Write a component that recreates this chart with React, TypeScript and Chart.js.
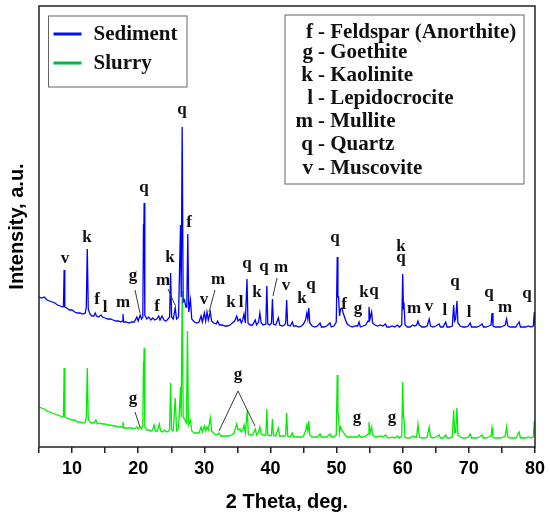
import React, { useEffect, useRef } from 'react';
import { Chart, registerables } from 'chart.js';

Chart.register(...registerables);

// ---- axis ----
const xMin = 5;
const xMax = 80;
const xStep = 5;
const xLabeledTicks = [10, 20, 30, 40, 50, 60, 70, 80];
const yMin = 0;
const yMax = 441;

const xTitle = '2 Theta, deg.';
const yTitle = 'Intensity, a.u.';

// ---- series: [2θ (deg), intensity (a.u.)] ----
const sedimentPoints: [number, number][] = [
  [5.0,150],[5.4,149],[5.8,150],[6.2,147],[6.6,146],[7.0,145],[7.4,144],[7.8,142],[8.2,141],[8.6,140],[8.7,141],[8.8,177],[8.9,140],[9.2,139],[9.6,137],[10.0,137],[10.4,135],[10.8,134],[11.2,134],[11.6,133],[12.0,134],[12.15,140],[12.3,198],[12.45,138],[12.7,133],[13.0,131],[13.3,131],[13.5,134],[13.7,131],[14.0,130],[14.4,132],[14.6,130],[15.0,129],[15.4,128],[15.8,128],[16.2,127],[16.6,126],[17.0,126],[17.4,125],[17.6,126],[17.7,133],[17.8,125],[18.2,125],[18.6,124],[19.0,125],[19.4,125],[19.8,130],[20.0,126],[20.3,132],[20.5,128],[20.7,130],[20.8,223],[20.85,210],[20.9,244],[21.0,132],[21.3,128],[21.6,130],[21.9,127],[22.2,129],[22.5,127],[22.8,128],[23.1,131],[23.3,127],[23.6,131],[23.9,127],[24.2,126],[24.5,128],[24.75,130],[24.9,174],[25.05,130],[25.3,128],[25.6,139],[25.8,128],[26.1,130],[26.4,222],[26.5,150],[26.65,320],[26.8,145],[27.0,147],[27.2,140],[27.35,140],[27.5,213],[27.65,135],[27.9,147],[28.1,128],[28.5,125],[28.9,124],[29.2,125],[29.5,131],[29.7,125],[30.0,134],[30.2,126],[30.4,135],[30.6,127],[30.9,135],[31.1,126],[31.4,124],[31.8,123],[32.0,126],[32.3,122],[32.7,122],[33.1,121],[33.5,121],[33.9,122],[34.2,124],[34.6,126],[34.9,131],[35.1,126],[35.4,128],[35.6,124],[35.8,127],[36.0,133],[36.2,124],[36.45,168],[36.6,124],[36.9,122],[37.3,122],[37.7,127],[37.9,122],[38.2,125],[38.4,134],[38.6,124],[38.9,122],[39.3,123],[39.45,161],[39.6,123],[39.9,122],[40.15,124],[40.3,148],[40.45,123],[40.8,122],[41.2,129],[41.4,122],[41.8,121],[42.1,122],[42.3,124],[42.45,147],[42.6,122],[43.0,121],[43.3,125],[43.5,121],[43.9,121],[44.3,120],[44.7,121],[45.0,123],[45.3,127],[45.5,134],[45.65,128],[45.8,139],[45.95,124],[46.3,121],[46.7,120],[47.1,121],[47.5,124],[47.7,120],[48.1,120],[48.5,121],[49.0,124],[49.2,120],[49.6,121],[49.95,125],[50.1,190],[50.2,150],[50.3,150],[50.45,131],[50.6,138],[50.8,139],[51.0,134],[51.3,128],[51.6,123],[52.0,121],[52.4,120],[52.8,121],[53.2,121],[53.4,125],[53.6,120],[54.0,121],[54.4,122],[54.75,126],[54.9,140],[55.05,128],[55.3,135],[55.45,124],[55.8,122],[56.2,121],[56.6,122],[57.0,121],[57.4,123],[57.6,120],[58.0,120],[58.4,121],[58.8,120],[59.2,122],[59.5,120],[59.85,122],[60.0,173],[60.1,140],[60.2,142],[60.35,122],[60.7,120],[61.1,120],[61.5,122],[61.8,121],[62.1,122],[62.3,126],[62.5,122],[62.9,120],[63.3,120],[63.7,121],[64.0,128],[64.2,121],[64.6,120],[65.0,121],[65.5,123],[65.7,120],[66.1,120],[66.5,125],[66.7,120],[67.1,120],[67.5,121],[67.7,142],[67.85,126],[68.0,128],[68.2,146],[68.35,124],[68.7,121],[69.1,120],[69.5,120],[69.9,121],[70.2,124],[70.4,120],[70.8,120],[71.2,120],[71.6,121],[72.0,123],[72.2,120],[72.6,120],[73.0,121],[73.35,122],[73.5,134],[73.65,121],[74.0,120],[74.4,120],[74.8,120],[75.2,121],[75.5,122],[75.7,128],[75.9,121],[76.3,120],[76.7,120],[77.1,120],[77.6,125],[77.8,120],[78.2,120],[78.6,120],[79.0,121],[79.4,120],[79.75,121],[79.9,135],[80.0,122],
];

const slurryPoints: [number, number][] = [
  [5.0,40],[5.4,39],[5.8,38],[6.2,36],[6.6,35],[7.0,34],[7.4,33],[7.8,32],[8.2,31],[8.6,30],[8.7,31],[8.8,79],[8.9,30],[9.2,29],[9.6,28],[10.0,27],[10.4,27],[10.8,25],[11.2,25],[11.6,24],[12.0,25],[12.15,30],[12.3,79],[12.45,28],[12.7,25],[13.0,24],[13.3,24],[13.6,27],[13.8,23],[14.2,24],[14.6,23],[15.0,23],[15.4,22],[15.8,22],[16.2,21],[16.6,21],[17.0,20],[17.4,20],[17.6,20],[17.7,25],[17.8,19],[18.2,19],[18.6,19],[19.0,19],[19.4,18],[19.8,20],[20.0,18],[20.3,20],[20.5,18],[20.7,22],[20.8,85],[20.85,80],[20.9,99],[21.0,20],[21.3,17],[21.6,17],[21.9,16],[22.2,17],[22.4,22],[22.6,16],[22.9,16],[23.2,23],[23.4,16],[23.7,15],[24.0,17],[24.3,15],[24.6,16],[24.75,18],[24.9,64],[25.05,17],[25.3,16],[25.6,49],[25.8,16],[26.1,18],[26.4,60],[26.5,30],[26.65,156],[26.8,30],[27.0,28],[27.2,25],[27.3,24],[27.45,116],[27.6,22],[27.9,27],[28.1,16],[28.5,14],[28.9,14],[29.2,14],[29.5,20],[29.7,15],[30.0,21],[30.2,16],[30.4,20],[30.6,17],[30.9,29],[31.1,16],[31.5,13],[31.9,12],[32.2,14],[32.5,11],[32.9,11],[33.3,11],[33.7,11],[34.1,12],[34.5,14],[34.9,23],[35.1,17],[35.4,18],[35.6,15],[35.8,17],[36.0,22],[36.2,14],[36.5,37],[36.65,13],[36.9,12],[37.3,12],[37.7,18],[37.9,12],[38.2,15],[38.4,20],[38.6,13],[38.9,12],[39.3,12],[39.45,38],[39.6,12],[39.9,11],[40.15,12],[40.3,28],[40.45,12],[40.8,11],[41.2,19],[41.4,11],[41.8,11],[42.1,11],[42.3,12],[42.45,34],[42.6,11],[43.0,10],[43.3,14],[43.5,10],[43.9,10],[44.3,10],[44.7,10],[45.0,11],[45.3,16],[45.5,22],[45.65,16],[45.8,26],[45.95,12],[46.3,10],[46.7,10],[47.1,10],[47.5,13],[47.7,10],[48.1,10],[48.5,10],[49.0,13],[49.2,10],[49.6,10],[49.95,12],[50.1,72],[50.2,35],[50.3,30],[50.45,14],[50.6,20],[50.8,17],[51.0,15],[51.3,12],[51.6,10],[52.0,10],[52.4,10],[52.8,10],[53.2,10],[53.4,12],[53.6,10],[54.0,10],[54.4,11],[54.75,13],[54.9,25],[55.05,14],[55.3,20],[55.45,12],[55.8,10],[56.2,10],[56.6,11],[57.0,10],[57.4,12],[57.6,10],[58.0,9],[58.4,10],[58.8,9],[59.2,11],[59.5,9],[59.85,11],[60.0,65],[60.1,30],[60.2,28],[60.35,10],[60.7,9],[61.1,9],[61.5,11],[61.8,10],[62.1,10],[62.3,23],[62.5,10],[62.9,9],[63.3,9],[63.7,10],[64.0,20],[64.2,10],[64.6,9],[65.0,10],[65.5,12],[65.7,9],[66.1,9],[66.5,12],[66.7,9],[67.1,9],[67.5,10],[67.7,37],[67.85,14],[68.0,15],[68.2,39],[68.35,12],[68.7,10],[69.1,9],[69.5,9],[69.9,10],[70.2,13],[70.4,9],[70.8,9],[71.2,9],[71.6,10],[72.0,12],[72.2,9],[72.6,9],[73.0,10],[73.35,11],[73.5,19],[73.65,10],[74.0,9],[74.4,9],[74.8,9],[75.2,10],[75.5,11],[75.7,20],[75.9,10],[76.3,9],[76.7,9],[77.1,9],[77.6,15],[77.8,9],[78.2,9],[78.6,9],[79.0,10],[79.4,9],[79.75,10],[79.9,26],[80.0,12],
];

// ---- peak annotations: [letter, 2θ, intensity] ----
const sedimentPeakLabels: [string, number, number][] = [
  ['v',8.93,188],['k',12.26,209],['f',13.77,147],['l',14.98,139],['m',17.7,144],['g',19.21,171],
  ['q',20.88,259],['f',22.84,140],['m',23.75,166],['k',24.81,189],['q',26.62,337],['f',27.68,224],
  ['v',29.95,147],['m',32.07,167],['k',34.03,144],['l',35.55,144],['q',36.45,183],['k',37.97,154],
  ['q',39.02,180],['m',41.59,179],['v',42.35,161],['k',44.77,148],['q',46.13,162],['q',49.76,209],
  ['f',51.12,142],['g',53.24,138],['k',54.15,154],['q',55.66,156],['k',59.74,200],['q',59.74,189],
  ['m',61.71,138],['v',63.97,140],['l',66.39,136],['q',67.91,165],['l',70.02,134],['q',73.05,154],
  ['m',75.47,139],['q',78.79,153],
];
const slurryPeakLabels: [string, number, number][] = [
  ['g',19.21,48],['g',35.09,72],['g',53.09,29],['g',58.38,29],
];

// ---- leader lines: [2θ1, I1, 2θ2, I2] ----
const sedimentLeaders: [number, number, number, number][] = [
  [19.52,157,20.27,134],[24.51,158,25.57,142],[31.61,157,30.71,135],[40.99,169,40.38,151],
];
const slurryLeaders: [number, number, number, number][] = [
  [19.52,35,20.27,20],[35.09,56,32.22,16],[35.09,56,37.66,21],
];

// ---- legends ----
const seriesNames = ['Sediment', 'Slurry'];
const seriesColors = ['#0000ff', '#00ee00'];
const legendLineColors = ['#0010ff', '#00b84a'];
const phaseLetters = ['f', 'g', 'k', 'l', 'm', 'q', 'v'];
const phaseNames = ['Feldspar (Anorthite)', 'Goethite', 'Kaolinite', 'Lepidocrocite', 'Mullite', 'Quartz', 'Muscovite'];

const SERIF = '"Liberation Serif", "Times New Roman", serif';
const SANS = '"Liberation Sans", Arial, sans-serif';

const overlayPlugin = {
  id: 'xrdOverlay',
  afterDatasetsDraw(chart: any) {
    const { ctx, chartArea: a, scales } = chart;
    const xs = scales.x;
    const ys = scales.y;
    ctx.save();

    // leader lines
    ctx.strokeStyle = '#3a3a3a';
    ctx.lineWidth = 1;
    for (const [x1, y1, x2, y2] of [...sedimentLeaders, ...slurryLeaders]) {
      ctx.beginPath();
      ctx.moveTo(xs.getPixelForValue(x1), ys.getPixelForValue(y1));
      ctx.lineTo(xs.getPixelForValue(x2), ys.getPixelForValue(y2));
      ctx.stroke();
    }

    // peak letters
    ctx.fillStyle = '#111';
    ctx.font = `bold 17px ${SERIF}`;
    ctx.textAlign = 'center';
    ctx.textBaseline = 'middle';
    for (const [t, x, y] of [...sedimentPeakLabels, ...slurryPeakLabels]) {
      ctx.fillText(t, xs.getPixelForValue(x), ys.getPixelForValue(y));
    }

    // frame
    ctx.strokeStyle = '#222';
    ctx.lineWidth = 1.5;
    ctx.strokeRect(a.left, a.top, a.right - a.left, a.bottom - a.top);

    // series legend box
    const b1x = a.left + 9.5, b1y = a.top + 10, b1w = 138.5, b1h = 71;
    ctx.fillStyle = '#fff';
    ctx.fillRect(b1x, b1y, b1w, b1h);
    ctx.strokeStyle = '#666';
    ctx.lineWidth = 1;
    ctx.strokeRect(b1x, b1y, b1w, b1h);
    ctx.font = `bold 21px ${SERIF}`;
    ctx.textAlign = 'left';
    ctx.textBaseline = 'middle';
    seriesNames.forEach((name, i) => {
      const cy = b1y + 18 + i * 29;
      ctx.strokeStyle = legendLineColors[i];
      ctx.lineWidth = 3;
      ctx.beginPath();
      ctx.moveTo(b1x + 5, cy);
      ctx.lineTo(b1x + 33, cy);
      ctx.stroke();
      ctx.fillStyle = '#111';
      ctx.fillText(name, b1x + 45, cy + 1);
    });

    // phase legend box
    const b2x = a.left + 246, b2y = a.top + 9, b2w = 239, b2h = 169;
    ctx.fillStyle = '#fff';
    ctx.fillRect(b2x, b2y, b2w, b2h);
    ctx.strokeStyle = '#666';
    ctx.lineWidth = 1;
    ctx.strokeRect(b2x, b2y, b2w, b2h);
    const rowOffsets = [18, 38, 61, 84, 107, 130, 154];
    ctx.fillStyle = '#111';
    ctx.font = `bold 21px ${SERIF}`;
    phaseLetters.forEach((ltr, i) => {
      const cy = b2y + rowOffsets[i];
      ctx.textAlign = 'right';
      ctx.fillText(ltr, b2x + 28, cy);
      ctx.textAlign = 'left';
      ctx.fillText('- ' + phaseNames[i], b2x + 33, cy);
    });

    ctx.restore();
  },
};

export default function App() {
  const canvasRef = useRef<HTMLCanvasElement | null>(null);

  useEffect(() => {
    document.body.style.margin = '0';
    const canvas = canvasRef.current;
    if (!canvas) return;
    const chart = new Chart(canvas, {
      type: 'line',
      data: {
        datasets: [
          {
            label: seriesNames[0],
            data: sedimentPoints.map(([x, y]) => ({ x, y })),
            borderColor: seriesColors[0],
            borderWidth: 1.3,
            pointRadius: 0,
            fill: false,
            tension: 0,
          },
          {
            label: seriesNames[1],
            data: slurryPoints.map(([x, y]) => ({ x, y })),
            borderColor: seriesColors[1],
            borderWidth: 1.3,
            pointRadius: 0,
            fill: false,
            tension: 0,
          },
        ],
      },
      options: {
        animation: false,
        responsive: false,
        devicePixelRatio: 1,
        layout: { padding: { top: 6, right: 15, left: 0, bottom: 0 } },
        plugins: {
          legend: { display: false },
          tooltip: { enabled: false },
        },
        scales: {
          x: {
            type: 'linear',
            min: xMin,
            max: xMax,
            ticks: {
              stepSize: xStep,
              autoSkip: false,
              maxRotation: 0,
              padding: 5,
              color: '#000',
              font: { family: SANS, size: 18, weight: 'bold' },
              callback: (v: any) => (xLabeledTicks.includes(Number(v)) ? String(v) : ''),
            },
            grid: {
              drawOnChartArea: false,
              drawTicks: true,
              tickLength: 6,
              color: '#222',
              lineWidth: 1.5,
            },
            border: { display: false },
            title: {
              display: true,
              text: xTitle,
              color: '#000',
              font: { family: SANS, size: 20, weight: 'bold' },
              padding: { top: 0, bottom: 5 },
            },
            afterFit: (s: any) => {
              s.height = 72;
            },
          },
          y: {
            type: 'linear',
            min: yMin,
            max: yMax,
            ticks: { display: false },
            grid: { display: false },
            border: { display: false },
            title: {
              display: true,
              text: yTitle,
              color: '#000',
              font: { family: SANS, size: 20, weight: 'bold' },
              padding: { top: 5, bottom: 0 },
            },
            afterFit: (s: any) => {
              s.width = 39;
            },
          },
        },
      },
      plugins: [overlayPlugin],
    } as any);
    return () => chart.destroy();
  }, []);

  return (
    <div style={{ width: 550, height: 519, background: '#fff' }}>
      <canvas ref={canvasRef} width={550} height={519} />
    </div>
  );
}
